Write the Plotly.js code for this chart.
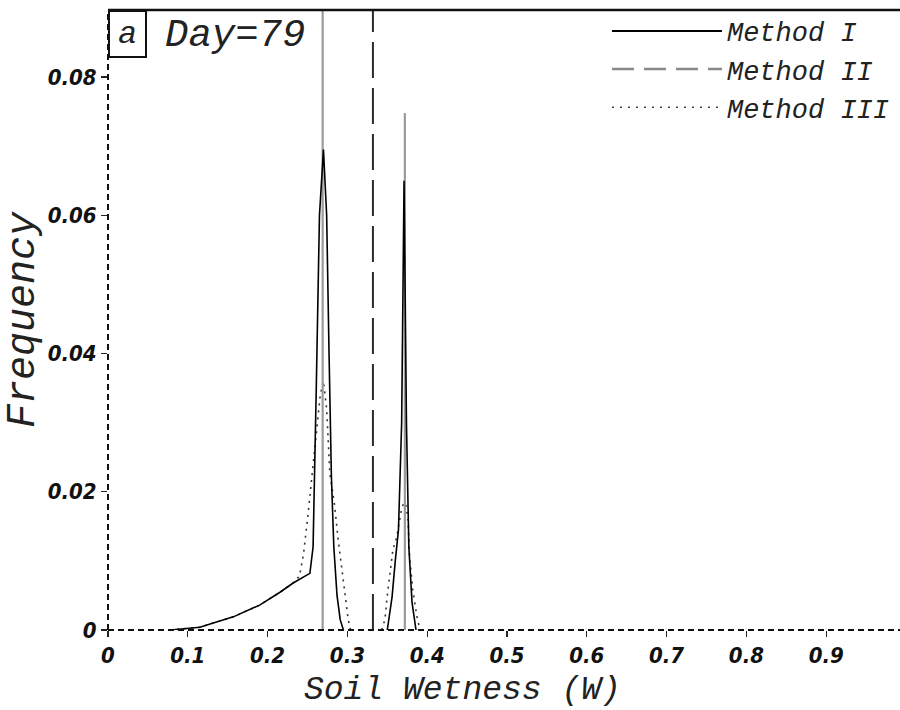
<!DOCTYPE html>
<html>
<head>
<meta charset="utf-8">
<script src="https://cdn.plot.ly/plotly-3.0.1.min.js"></script>
<style>html,body{margin:0;padding:0;background:#fff;}#chart{width:900px;height:710px;}</style>
</head>
<body>
<div id="chart"></div>
<script>
// ---- data (null = curve lies on the zero axis) ----
const methodIX = [0.078, 0.115, 0.157, 0.19, 0.216, 0.232, 0.253, 0.257, 0.261, 0.265, 0.27, 0.274, 0.277, 0.28, 0.283, 0.287, 0.291, 0.295, null, 0.35, 0.356, 0.36, 0.364, 0.368, 0.371, 0.374, 0.377, 0.381, 0.386];
const methodIY = [0, 0.0004, 0.0019, 0.0036, 0.0055, 0.0068, 0.0082, 0.012, 0.035, 0.06, 0.0695, 0.06, 0.04, 0.022, 0.012, 0.005, 0.0015, 0, null, 0, 0.0048, 0.010, 0.0145, 0.03, 0.065, 0.03, 0.012, 0.004, 0];

const methodIIX = [0.269, 0.269, null, 0.372, 0.372];
const methodIIY = [0, 0.1, null, 0, 0.0748];

const methodIIIX = [0.078, 0.115, 0.157, 0.19, 0.216, 0.232, 0.24, 0.245, 0.25, 0.256, 0.26, 0.266, 0.27, 0.274, 0.278, 0.284, 0.288, 0.293, 0.297, 0.301, 0.304, null, 0.343, 0.347, 0.35, 0.357, 0.362, 0.367, 0.372, 0.376, 0.378, 0.382, 0.387, 0.391];
const methodIIIY = [0, 0.0004, 0.0019, 0.0036, 0.0055, 0.0068, 0.0078, 0.011, 0.016, 0.0227, 0.028, 0.034, 0.036, 0.032, 0.0227, 0.018, 0.0135, 0.0087, 0.0054, 0.0015, 0, null, 0, 0.0015, 0.005, 0.0116, 0.0135, 0.017, 0.019, 0.016, 0.0105, 0.0058, 0.002, 0];

const refLineX = [0.332, 0.332];
const refLineY = [0, 0.1];

const seriesNames = ['Method I', 'Method II', 'Method III'];
const xTickVals = [0, 0.1, 0.2, 0.3, 0.4, 0.5, 0.6, 0.7, 0.8, 0.9];
const xTickText = ['0', '0.1', '0.2', '0.3', '0.4', '0.5', '0.6', '0.7', '0.8', '0.9'];
const yTickVals = [0, 0.02, 0.04, 0.06, 0.08];
const yTickText = ['0', '0.02', '0.04', '0.06', '0.08'];
const panelLabel = 'a';
const dayLabel = 'Day=79';
const xTitle = 'Soil Wetness (W)';
const yTitle = 'Frequency';

// ---- styling ----
const serif = 'Liberation Mono, DejaVu Sans Mono, monospace';
const tickFont = {family: 'Liberation Sans Narrow, DejaVu Sans Condensed, Liberation Sans, sans-serif', size: 22, color: '#111', weight: 700, style: 'italic'};

const traces = [
  {x: methodIIIX, y: methodIIIY, mode: 'lines', showlegend: false, connectgaps: false,
   line: {color: '#333', width: 1.6, dash: '2px,5px'}},
  {x: methodIIX, y: methodIIY, mode: 'lines', showlegend: false,
   line: {color: '#9a9a9a', width: 2.2}},
  {x: refLineX, y: refLineY, mode: 'lines', showlegend: false,
   line: {color: '#2a2a2a', width: 2, dash: '36px,10px'}},
  {x: methodIX, y: methodIY, mode: 'lines', showlegend: false, connectgaps: false,
   line: {color: '#000', width: 1.6}},
  // legend entries
  {x: [null], y: [null], mode: 'lines', name: seriesNames[0], line: {color: '#000', width: 2}},
  {x: [null], y: [null], mode: 'lines', name: seriesNames[1], line: {color: '#888', width: 2.5, dash: '22px,10px'}},
  {x: [null], y: [null], mode: 'lines', name: seriesNames[2], line: {color: '#444', width: 1.5, dash: '2px,6px'}}
];

const layout = {
  width: 900, height: 710,
  margin: {l: 108, r: 0, t: 10, b: 80},
  paper_bgcolor: '#fff', plot_bgcolor: '#fff',
  showlegend: true,
  legend: {x: 0.63, xanchor: 'left', y: 1.005, yanchor: 'top', bgcolor: 'rgba(0,0,0,0)',
           itemwidth: 110, tracegroupgap: 0,
           font: {family: serif, size: 27, color: '#222', style: 'italic'}},
  xaxis: {range: [0, 0.9925], tickvals: xTickVals, ticktext: xTickText,
          ticks: 'outside', ticklen: 6, tickcolor: '#222', tickwidth: 1.2,
          showgrid: false, zeroline: false, showline: false, tickfont: tickFont},
  yaxis: {range: [0, 0.0897], tickvals: yTickVals, ticktext: yTickText,
          ticks: 'outside', ticklen: 6, tickcolor: '#222', tickwidth: 1.2,
          showgrid: false, zeroline: false, showline: false, tickfont: tickFont,
          title: {text: yTitle, standoff: 0, font: {family: serif, size: 40, color: '#222', style: 'italic'}}},
  shapes: [
    {type: 'line', xref: 'paper', yref: 'paper', x0: 0, x1: 1, y0: 0, y1: 0, line: {color: '#111', width: 2, dash: '6px,4px'}},
    {type: 'line', xref: 'paper', yref: 'paper', x0: 0, x1: 0, y0: 0, y1: 1, line: {color: '#111', width: 2, dash: '6px,4px'}},
    {type: 'line', xref: 'paper', yref: 'paper', x0: 0, x1: 1, y0: 1, y1: 1, line: {color: '#111', width: 2.5}}
  ],
  annotations: [
    {text: panelLabel, xref: 'paper', yref: 'paper', x: 0, y: 1, xanchor: 'left', yanchor: 'top',
     showarrow: false, width: 35, height: 44, bordercolor: '#111', borderwidth: 2, borderpad: 0, bgcolor: '#fff',
     font: {family: serif, size: 32, color: '#222', style: 'italic'}},
    {text: dayLabel, xref: 'paper', yref: 'paper', x: 0.069, y: 0.997, xanchor: 'left', yanchor: 'top',
     showarrow: false, font: {family: serif, size: 39, color: '#222', style: 'italic'}},
    {text: xTitle, xref: 'paper', yref: 'paper', x: 0.447, y: -0.097, xanchor: 'center', yanchor: 'middle',
     showarrow: false, font: {family: serif, size: 33, color: '#222', style: 'italic'}}
  ]
};

Plotly.newPlot('chart', traces, layout, {displayModeBar: false, staticPlot: true});
</script>
</body>
</html>
